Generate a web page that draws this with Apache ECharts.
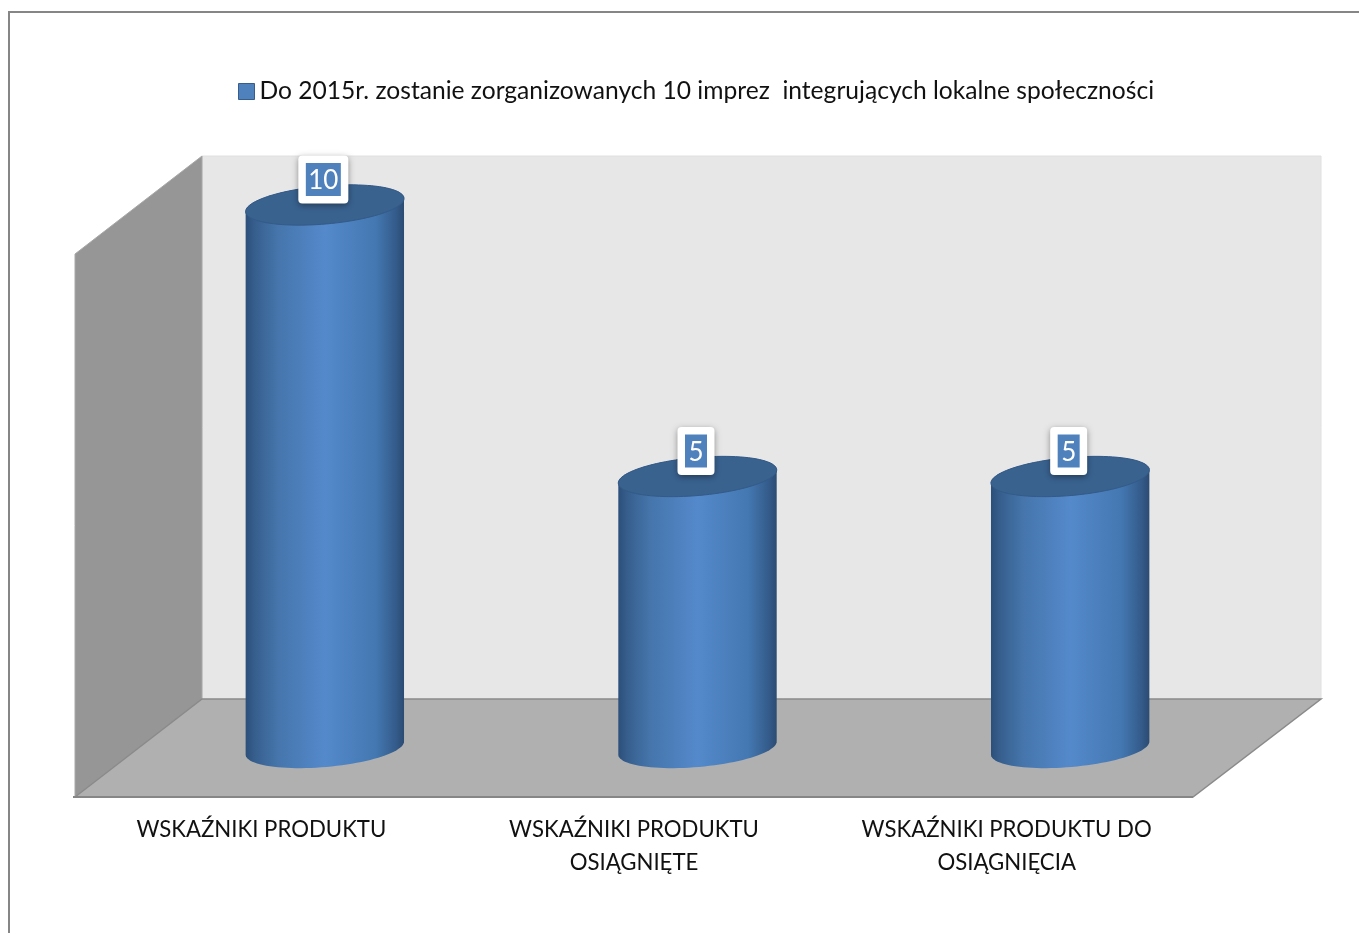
<!DOCTYPE html>
<html>
<head>
<meta charset="utf-8">
<title>Wskazniki produktu</title>
<script src="https://cdn.jsdelivr.net/npm/echarts@6/dist/echarts.min.js"></script>
<style>
html, body { margin: 0; padding: 0; background: #fff; }
#chart { width: 1359px; height: 933px; }
</style>
</head>
<body>
<div id="chart"></div>
<script>
var seriesName = 'Do 2015r. zostanie zorganizowanych 10 imprez  integrujących lokalne społeczności';
var categories = ['WSKAŹNIKI PRODUKTU', 'WSKAŹNIKI PRODUKTU\nOSIĄGNIĘTE', 'WSKAŹNIKI PRODUKTU DO\nOSIĄGNIĘCIA'];
var values = [10, 5, 5];

// fake 3d box around the plot
var gridLeft = 75, gridTop = 254, gridWidth = 1118, gridHeight = 543;
var depthX = 127, depthY = 98;
var gridBottom = gridTop + gridHeight;
var gridRight = gridLeft + gridWidth;

// cylinder shape
var radiusX = 79.5, radiusY = 19, tilt = 5 * Math.PI / 180;

function ellipsePoint(cx, cy, t) {
    var x = radiusX * Math.cos(t), y = radiusY * Math.sin(t);
    return [cx + x * Math.cos(tilt) + y * Math.sin(tilt), cy - x * Math.sin(tilt) + y * Math.cos(tilt)];
}

function renderCylinder(params, api) {
    var value = api.value(1);
    var base = api.coord([api.value(0), 0]);
    var top = api.coord([api.value(0), value]);
    // bars stand halfway back on the floor
    var cx = base[0] + depthX / 2;
    var baseY = base[1] - depthY / 2;
    var topY = top[1] - depthY / 2;
    var body = [], cap = [];
    var i, t;
    for (i = 0; i <= 48; i++) {
        t = Math.PI * i / 48;
        body.push(ellipsePoint(cx, baseY, t));
    }
    for (i = 48; i >= 0; i--) {
        t = Math.PI + Math.PI * (48 - i) / 48;
        body.push(ellipsePoint(cx, topY, t));
    }
    for (i = 0; i < 96; i++) {
        cap.push(ellipsePoint(cx, topY, Math.PI * 2 * i / 96));
    }
    var text = String(value);
    var blueW = 9 + 13 * text.length, blueH = 33;
    var labelX = cx - 1.5, labelY = topY - 25.5;
    return {
        type: 'group',
        children: [{
            type: 'polygon',
            shape: { points: body },
            style: {
                fill: new echarts.graphic.LinearGradient(0, 0, 1, 0, [
                    { offset: 0, color: '#2c4f7a' },
                    { offset: 0.06, color: '#375f8e' },
                    { offset: 0.2, color: '#4575ab' },
                    { offset: 0.5, color: '#5489cb' },
                    { offset: 0.82, color: '#4478b2' },
                    { offset: 0.95, color: '#345b8a' },
                    { offset: 1, color: '#2b4b72' }
                ])
            }
        }, {
            type: 'polygon',
            shape: { points: cap },
            style: { fill: '#39628f', stroke: '#345a88', lineWidth: 1 }
        }, {
            type: 'rect',
            shape: { x: labelX - blueW / 2 - 7.5, y: labelY - 24, width: blueW + 15, height: 48, r: 4 },
            style: { fill: '#fff', shadowBlur: 6, shadowOffsetY: 2, shadowColor: 'rgba(0,0,0,0.4)' }
        }, {
            type: 'rect',
            shape: { x: labelX - blueW / 2, y: labelY - blueH / 2, width: blueW, height: blueH },
            style: { fill: '#4f81bd' }
        }, {
            type: 'text',
            style: {
                x: labelX, y: labelY + 1.5, text: text, fill: '#fff',
                font: '26px Lato', align: 'center', verticalAlign: 'middle'
            }
        }]
    };
}

var chart = echarts.init(document.getElementById('chart'));

chart.setOption({
    animation: false,
    backgroundColor: '#fff',
    legend: {
        left: 233,
        top: 74,
        itemWidth: 16,
        itemHeight: 16,
        icon: 'rect',
        itemStyle: { borderColor: '#385d8a', borderWidth: 1 },
        textStyle: { fontFamily: 'Lato', fontSize: 24.6, color: '#111' },
        data: [seriesName]
    },
    grid: { left: gridLeft, top: gridTop, width: gridWidth, height: gridHeight },
    xAxis: {
        type: 'category',
        data: categories,
        axisLine: { show: false },
        axisTick: { show: false },
        axisLabel: {
            interval: 0,
            margin: 16,
            fontFamily: 'Lato',
            fontSize: 22.2,
            lineHeight: 33,
            color: '#111'
        }
    },
    yAxis: { type: 'value', min: 0, max: 10, show: false },
    graphic: [{
        type: 'polyline',
        z: -10,
        shape: { points: [[9, 933], [9, 12], [1359, 12]] },
        style: { fill: null, stroke: '#868686', lineWidth: 2 }
    }, {
        type: 'polygon',
        z: -10,
        shape: { points: [[gridLeft + depthX, gridTop - depthY], [gridRight + depthX + 1, gridTop - depthY], [gridRight + depthX + 1, gridBottom - depthY], [gridLeft + depthX, gridBottom - depthY]] },
        style: { fill: '#e7e7e7', stroke: '#e0e0e0', lineWidth: 1 }
    }, {
        type: 'polygon',
        z: -9,
        shape: { points: [[gridLeft, gridTop], [gridLeft + depthX, gridTop - depthY], [gridLeft + depthX, gridBottom - depthY], [gridLeft, gridBottom]] },
        style: { fill: '#969696', stroke: '#a8a8a8', lineWidth: 1 }
    }, {
        type: 'polygon',
        z: -8,
        shape: { points: [[gridLeft, gridBottom], [gridLeft + depthX, gridBottom - depthY], [gridRight + depthX + 1, gridBottom - depthY], [gridRight, gridBottom]] },
        style: { fill: '#b0b0b0', stroke: '#8a8a8a', lineWidth: 1.5 }
    }, {
        type: 'line',
        z: -7,
        shape: { x1: gridLeft - 2, y1: gridBottom, x2: gridRight, y2: gridBottom },
        style: { stroke: '#868686', lineWidth: 2 }
    }],
    series: [{
        name: seriesName,
        type: 'custom',
        coordinateSystem: 'cartesian2d',
        renderItem: renderCylinder,
        itemStyle: { color: '#4f81bd' },
        encode: { x: 0, y: 1 },
        data: values.map(function (v, i) { return [i, v]; })
    }]
});
</script>
</body>
</html>
